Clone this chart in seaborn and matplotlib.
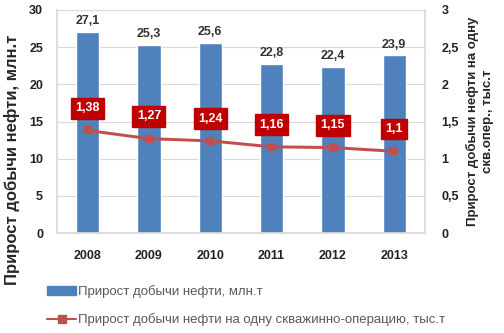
import seaborn as sns
import pandas as pd
import matplotlib.pyplot as plt
from matplotlib.patches import Patch
from matplotlib.lines import Line2D

years = ["2008", "2009", "2010", "2011", "2012", "2013"]
production = [27.1, 25.3, 25.6, 22.8, 22.4, 23.9]
per_operation = [1.38, 1.27, 1.24, 1.16, 1.15, 1.1]

bar_label = "Прирост добычи нефти, млн.т"
line_label = "Прирост добычи нефти на одну скважинно-операцию, тыс.т"

df = pd.DataFrame({"year": years, "prod": production, "per_op": per_operation})

sns.set_theme(style="white")
plt.rcParams['font.family'] = ['Liberation Sans', 'DejaVu Sans']

blue = "#4f81bd"
red = "#c0504d"
dark_red = "#c00000"

fig = plt.figure(figsize=(5.04, 3.33), dpi=100)
ax = fig.add_axes([0.113, 0.30, 0.73, 0.67])

sns.barplot(data=df, x="year", y="prod", ax=ax, color=blue, width=0.38, saturation=1)
ax.set_ylim(0, 30)
ax.set_yticks(range(0, 31, 5))
ax.yaxis.grid(True, color="#d9d9d9", linewidth=0.8)
ax.set_axisbelow(True)
ax.spines["top"].set_visible(False)
for s in ["right", "left", "bottom"]:
    ax.spines[s].set_color("#d9d9d9")
ax.set_xlabel("")
ax.set_ylabel(bar_label, fontsize=12, fontweight="bold")
ax.yaxis.set_label_coords(-0.10, 0.33)
ax.tick_params(axis="y", length=0, labelsize=9, colors="#222222", pad=10)
ax.tick_params(axis="x", length=0, labelsize=9, colors="#222222", pad=12)
for t in ax.get_xticklabels() + ax.get_yticklabels():
    t.set_fontweight("bold")

for i, v in enumerate(production):
    ax.text(i, v + 0.6, f"{v:.1f}".replace(".", ","), ha="center", va="bottom",
            fontsize=9, fontweight="bold", color="#333333")

ax2 = ax.twinx()
sns.pointplot(data=df, x="year", y="per_op", ax=ax2, color=red, markers="s",
              linestyles="-", scale=0.8)
ax2.set_ylim(0, 3)
ax2.set_yticks([0, 0.5, 1, 1.5, 2, 2.5, 3])
ax2.set_yticklabels(["0", "0,5", "1", "1,5", "2", "2,5", "3"])
ax2.set_ylabel("Прирост добычи нефти на одну\nскв.опер., тыс.т", fontsize=9.5,
               fontweight="bold", labelpad=5, linespacing=1.3)
ax2.tick_params(axis="y", length=0, labelsize=9, colors="#222222", pad=12)
for t in ax2.get_yticklabels():
    t.set_fontweight("bold")
for s in ["top", "right", "left", "bottom"]:
    ax2.spines[s].set_visible(False)

for i, v in enumerate(per_operation):
    txt = f"{v:.2f}".rstrip("0").replace(".", ",")
    ax2.annotate(txt, (i, v), xytext=(0, 16), textcoords="offset points",
                 ha="center", va="center", fontsize=9, fontweight="bold", color="white",
                 bbox=dict(boxstyle="square,pad=0.35", fc=dark_red, ec=dark_red))

handles = [Patch(facecolor=blue, edgecolor=blue),
           Line2D([0], [0], color=red, marker="s", markersize=6, linewidth=1.5)]
fig.legend(handles, [bar_label, line_label], loc="lower left",
           bbox_to_anchor=(0.07, -0.015), frameon=False, fontsize=9.5,
           labelcolor="#595959", handlelength=2.2, handletextpad=0.1,
           labelspacing=1.15)

fig.savefig("out.png", dpi=100)
